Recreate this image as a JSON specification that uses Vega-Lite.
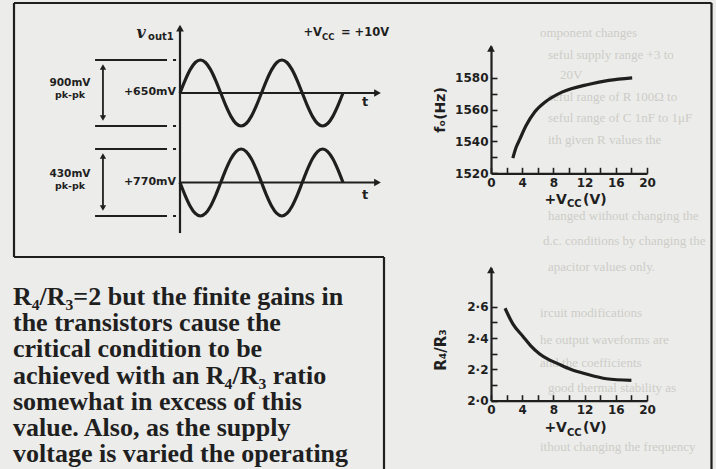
{
  "$schema": "https://vega.github.io/schema/vega-lite/v6.json",
  "width": 716,
  "height": 469,
  "autosize": "none",
  "padding": 0,
  "background": "#ececea",
  "config": {"view": {"stroke": null}, "axis": {"grid": false}},
  "datasets": {
    "waveA": [
      {"t": 0, "mv": 650}, {"t": 0.04, "mv": 822.2}, {"t": 0.08, "mv": 968.2}, {"t": 0.12, "mv": 1065.7},
      {"t": 0.16, "mv": 1100}, {"t": 0.2, "mv": 1065.7}, {"t": 0.24, "mv": 968.2}, {"t": 0.28, "mv": 822.2},
      {"t": 0.32, "mv": 650}, {"t": 0.36, "mv": 477.8}, {"t": 0.4, "mv": 331.8}, {"t": 0.44, "mv": 234.3},
      {"t": 0.48, "mv": 200}, {"t": 0.52, "mv": 234.3}, {"t": 0.56, "mv": 331.8}, {"t": 0.6, "mv": 477.8},
      {"t": 0.64, "mv": 650}, {"t": 0.68, "mv": 822.2}, {"t": 0.72, "mv": 968.2}, {"t": 0.76, "mv": 1065.7},
      {"t": 0.8, "mv": 1100}, {"t": 0.84, "mv": 1065.7}, {"t": 0.88, "mv": 968.2}, {"t": 0.92, "mv": 822.2},
      {"t": 0.96, "mv": 650}, {"t": 1.0, "mv": 477.8}, {"t": 1.04, "mv": 331.8}, {"t": 1.08, "mv": 234.3},
      {"t": 1.12, "mv": 200}, {"t": 1.16, "mv": 234.3}, {"t": 1.2, "mv": 331.8}, {"t": 1.24, "mv": 477.8},
      {"t": 1.28, "mv": 650}
    ],
    "waveB": [
      {"t": 0, "mv": 770}, {"t": 0.04, "mv": 687.7}, {"t": 0.08, "mv": 618}, {"t": 0.12, "mv": 571.4},
      {"t": 0.16, "mv": 555}, {"t": 0.2, "mv": 571.4}, {"t": 0.24, "mv": 618}, {"t": 0.28, "mv": 687.7},
      {"t": 0.32, "mv": 770}, {"t": 0.36, "mv": 852.3}, {"t": 0.4, "mv": 922}, {"t": 0.44, "mv": 968.6},
      {"t": 0.48, "mv": 985}, {"t": 0.52, "mv": 968.6}, {"t": 0.56, "mv": 922}, {"t": 0.6, "mv": 852.3},
      {"t": 0.64, "mv": 770}, {"t": 0.68, "mv": 687.7}, {"t": 0.72, "mv": 618}, {"t": 0.76, "mv": 571.4},
      {"t": 0.8, "mv": 555}, {"t": 0.84, "mv": 571.4}, {"t": 0.88, "mv": 618}, {"t": 0.92, "mv": 687.7},
      {"t": 0.96, "mv": 770}, {"t": 1.0, "mv": 852.3}, {"t": 1.04, "mv": 922}, {"t": 1.08, "mv": 968.6},
      {"t": 1.12, "mv": 985}, {"t": 1.16, "mv": 968.6}, {"t": 1.2, "mv": 922}, {"t": 1.24, "mv": 852.3},
      {"t": 1.28, "mv": 770}
    ],
    "freq": [
      {"vcc": 2.8, "f": 1529.5}, {"vcc": 3.2, "f": 1536}, {"vcc": 3.7, "f": 1541.5}, {"vcc": 4.5, "f": 1550},
      {"vcc": 5.6, "f": 1558.5}, {"vcc": 7, "f": 1565}, {"vcc": 9.1, "f": 1571}, {"vcc": 12.6, "f": 1576},
      {"vcc": 15.1, "f": 1578.4}, {"vcc": 18.1, "f": 1580}
    ],
    "ratio": [
      {"vcc": 1.8, "r": 2.59}, {"vcc": 2.8, "r": 2.49}, {"vcc": 4.1, "r": 2.41}, {"vcc": 5.1, "r": 2.35},
      {"vcc": 6.2, "r": 2.3}, {"vcc": 7.3, "r": 2.265}, {"vcc": 8.4, "r": 2.24}, {"vcc": 10.2, "r": 2.2},
      {"vcc": 12.2, "r": 2.17}, {"vcc": 14.8, "r": 2.14}, {"vcc": 18, "r": 2.13}
    ],
    "para": [
      {"line": 1, "text": "R₄/R₃=2 but the finite gains in"},
      {"line": 2, "text": "the transistors cause the"},
      {"line": 3, "text": "critical condition to be"},
      {"line": 4, "text": "achieved with an R₄/R₃ ratio"},
      {"line": 5, "text": "somewhat in excess of this"},
      {"line": 6, "text": "value. Also, as the supply"},
      {"line": 7, "text": "voltage is varied the operating"}
    ],
    "showThrough": [
      {"x": 540, "y": 33, "text": "omponent changes"},
      {"x": 548, "y": 55, "text": "seful supply range +3 to"},
      {"x": 560, "y": 75, "text": "20V"},
      {"x": 548, "y": 97, "text": "seful range of R 100Ω to"},
      {"x": 548, "y": 118, "text": "seful range of C 1nF to 1μF"},
      {"x": 548, "y": 140, "text": "ith given R values the"},
      {"x": 548, "y": 216, "text": "hanged without changing the"},
      {"x": 543, "y": 241, "text": "d.c. conditions by changing the"},
      {"x": 548, "y": 267, "text": "apacitor values only."},
      {"x": 540, "y": 313, "text": "ircuit modifications"},
      {"x": 540, "y": 340, "text": "he output waveforms are"},
      {"x": 540, "y": 363, "text": "and the coefficients"},
      {"x": 548, "y": 388, "text": "good thermal stability as"},
      {"x": 540, "y": 447, "text": "ithout changing the frequency"}
    ]
  },
  "resolve": {"scale": {"x": "independent", "y": "independent"}, "axis": {"x": "independent", "y": "independent"}},
  "layer": [
    {
      "data": {"name": "showThrough"},
      "mark": {"type": "text", "align": "left", "baseline": "middle", "font": "Liberation Serif", "fontSize": 13, "color": "#cdccc8"},
      "encoding": {
        "x": {"field": "x", "type": "quantitative", "scale": {"domain": [0, 716], "range": [0, 716], "nice": false, "zero": false}, "axis": null},
        "y": {"field": "y", "type": "quantitative", "scale": {"domain": [0, 469], "range": [0, 469], "nice": false, "zero": false}, "axis": null},
        "text": {"field": "text"}
      }
    },
    {
      "data": {"values": [{}]},
      "layer": [
        {"mark": {"type": "rule", "color": "#1f1f1f", "strokeWidth": 2.2},
         "encoding": {"x": {"datum": 14, "type": "quantitative", "scale": {"domain": [0, 716], "range": [0, 716], "nice": false, "zero": false}, "axis": null},
                      "x2": {"datum": 711.5},
                      "y": {"datum": 3, "type": "quantitative", "scale": {"domain": [0, 469], "range": [0, 469], "nice": false, "zero": false}, "axis": null}}},
        {"mark": {"type": "rule", "color": "#1f1f1f", "strokeWidth": 2.2},
         "encoding": {"x": {"datum": 711.5, "type": "quantitative"}, "y": {"datum": 3, "type": "quantitative"}, "y2": {"datum": 469}}},
        {"mark": {"type": "rule", "color": "#1f1f1f", "strokeWidth": 2.2},
         "encoding": {"x": {"datum": 14, "type": "quantitative"}, "y": {"datum": 3, "type": "quantitative"}, "y2": {"datum": 257}}},
        {"mark": {"type": "rule", "color": "#1f1f1f", "strokeWidth": 2.2},
         "encoding": {"x": {"datum": 14, "type": "quantitative"}, "x2": {"datum": 384}, "y": {"datum": 257, "type": "quantitative"}}},
        {"mark": {"type": "rule", "color": "#1f1f1f", "strokeWidth": 2.2},
         "encoding": {"x": {"datum": 384, "type": "quantitative"}, "y": {"datum": 257, "type": "quantitative"}, "y2": {"datum": 469}}}
      ]
    },
    {
      "data": {"name": "para"},
      "mark": {"type": "text", "align": "left", "baseline": "alphabetic", "font": "Liberation Serif", "fontWeight": "bold", "fontSize": 26, "color": "#1f1f1f"},
      "encoding": {
        "x": {"datum": 13, "type": "quantitative", "scale": {"domain": [0, 716], "range": [0, 716], "nice": false, "zero": false}, "axis": null},
        "y": {"field": "line", "type": "quantitative", "scale": {"domain": [1, 7], "range": [305, 462], "nice": false, "zero": false}, "axis": null},
        "text": {"field": "text"}
      }
    },
    {
      "data": {"values": [{}]},
      "layer": [
        {"data": {"name": "waveA"},
         "mark": {"type": "line", "color": "#1f1f1f", "strokeWidth": 3.2, "interpolate": "monotone"},
         "encoding": {"x": {"field": "t", "type": "quantitative", "scale": {"domain": [0, 1.28], "range": [180, 343], "nice": false, "zero": false}, "axis": null},
                      "y": {"field": "mv", "type": "quantitative", "scale": {"domain": [200, 1100], "range": [126, 60], "nice": false, "zero": false}, "axis": null}}},
        {"mark": {"type": "rule", "color": "#1f1f1f", "strokeWidth": 2.2},
         "encoding": {"x": {"datum": 0, "type": "quantitative"}, "y": {"datum": -1260, "type": "quantitative"}, "y2": {"datum": 1500}}},
        {"mark": {"type": "point", "shape": "triangle-up", "filled": true, "opacity": 1, "size": 60, "color": "#1f1f1f"},
         "encoding": {"x": {"datum": 0, "type": "quantitative"}, "y": {"datum": 1536, "type": "quantitative"}}},
        {"mark": {"type": "rule", "color": "#1f1f1f", "strokeWidth": 2.2},
         "encoding": {"x": {"datum": 0, "type": "quantitative"}, "x2": {"datum": 1.54}, "y": {"datum": 650, "type": "quantitative"}}},
        {"mark": {"type": "point", "shape": "triangle-right", "filled": true, "opacity": 1, "size": 60, "color": "#1f1f1f"},
         "encoding": {"x": {"datum": 1.551, "type": "quantitative"}, "y": {"datum": 650, "type": "quantitative"}}},
        {"mark": {"type": "rule", "color": "#1f1f1f", "strokeWidth": 2.2},
         "encoding": {"x": {"datum": -0.667, "type": "quantitative"}, "x2": {"datum": -0.102}, "y": {"datum": 1100, "type": "quantitative"}}},
        {"mark": {"type": "rule", "color": "#1f1f1f", "strokeWidth": 2.2},
         "encoding": {"x": {"datum": -0.667, "type": "quantitative"}, "x2": {"datum": -0.102}, "y": {"datum": 200, "type": "quantitative"}}},
        {"mark": {"type": "rule", "color": "#1f1f1f", "strokeWidth": 2},
         "encoding": {"x": {"datum": -0.055, "type": "quantitative"}, "x2": {"datum": -0.031}, "y": {"datum": 1100, "type": "quantitative"}}},
        {"mark": {"type": "rule", "color": "#1f1f1f", "strokeWidth": 2},
         "encoding": {"x": {"datum": -0.055, "type": "quantitative"}, "x2": {"datum": -0.031}, "y": {"datum": 200, "type": "quantitative"}}},
        {"mark": {"type": "rule", "color": "#1f1f1f", "strokeWidth": 1.8},
         "encoding": {"x": {"datum": -0.605, "type": "quantitative"}, "y": {"datum": 1004, "type": "quantitative"}, "y2": {"datum": 309}}},
        {"mark": {"type": "point", "shape": "triangle-up", "filled": true, "opacity": 1, "size": 40, "color": "#1f1f1f"},
         "encoding": {"x": {"datum": -0.605, "type": "quantitative"}, "y": {"datum": 1004, "type": "quantitative"}}},
        {"mark": {"type": "point", "shape": "triangle-down", "filled": true, "opacity": 1, "size": 40, "color": "#1f1f1f"},
         "encoding": {"x": {"datum": -0.605, "type": "quantitative"}, "y": {"datum": 309, "type": "quantitative"}}},
        {"mark": {"type": "text", "align": "center", "baseline": "middle", "font": "DejaVu Sans", "fontWeight": "bold", "fontSize": 10.5, "color": "#1f1f1f"},
         "encoding": {"x": {"datum": -0.864, "type": "quantitative"}, "y": {"datum": 786, "type": "quantitative"}, "text": {"value": "900mV"}}},
        {"mark": {"type": "text", "align": "center", "baseline": "middle", "font": "DejaVu Sans", "fontWeight": "bold", "fontSize": 9.5, "color": "#1f1f1f"},
         "encoding": {"x": {"datum": -0.864, "type": "quantitative"}, "y": {"datum": 623, "type": "quantitative"}, "text": {"value": "pk-pk"}}},
        {"mark": {"type": "text", "align": "right", "baseline": "middle", "font": "DejaVu Sans", "fontWeight": "bold", "fontSize": 11, "color": "#1f1f1f"},
         "encoding": {"x": {"datum": -0.031, "type": "quantitative"}, "y": {"datum": 664, "type": "quantitative"}, "text": {"value": "+650mV"}}},
        {"mark": {"type": "text", "align": "center", "baseline": "middle", "font": "DejaVu Sans", "fontWeight": "bold", "fontSize": 13, "color": "#1f1f1f"},
         "encoding": {"x": {"datum": 1.453, "type": "quantitative"}, "y": {"datum": 527, "type": "quantitative"}, "text": {"value": "t"}}},
        {"mark": {"type": "text", "align": "center", "baseline": "middle", "font": "DejaVu Serif", "fontStyle": "italic", "fontWeight": "bold", "fontSize": 16, "color": "#1f1f1f"},
         "encoding": {"x": {"datum": -0.306, "type": "quantitative"}, "y": {"datum": 1468, "type": "quantitative"}, "text": {"value": "v"}}},
        {"mark": {"type": "text", "align": "left", "baseline": "middle", "font": "DejaVu Sans", "fontWeight": "bold", "fontSize": 10, "color": "#1f1f1f"},
         "encoding": {"x": {"datum": -0.251, "type": "quantitative"}, "y": {"datum": 1414, "type": "quantitative"}, "text": {"value": "out1"}}},
        {"mark": {"type": "text", "align": "right", "baseline": "middle", "font": "DejaVu Sans", "fontWeight": "bold", "fontSize": 11.5, "color": "#1f1f1f"},
         "encoding": {"x": {"datum": 1.115, "type": "quantitative"}, "y": {"datum": 1468, "type": "quantitative"}, "text": {"value": "+V"}}},
        {"mark": {"type": "text", "align": "left", "baseline": "middle", "font": "DejaVu Sans", "fontWeight": "bold", "fontSize": 8.5, "color": "#1f1f1f"},
         "encoding": {"x": {"datum": 1.115, "type": "quantitative"}, "y": {"datum": 1414, "type": "quantitative"}, "text": {"value": "CC"}}},
        {"mark": {"type": "text", "align": "left", "baseline": "middle", "font": "DejaVu Sans", "fontWeight": "bold", "fontSize": 11.5, "color": "#1f1f1f"},
         "encoding": {"x": {"datum": 1.264, "type": "quantitative"}, "y": {"datum": 1468, "type": "quantitative"}, "text": {"value": "= +10V"}}}
      ]
    },
    {
      "data": {"values": [{}]},
      "layer": [
        {"data": {"name": "waveB"},
         "mark": {"type": "line", "color": "#1f1f1f", "strokeWidth": 3.2, "interpolate": "monotone"},
         "encoding": {"x": {"field": "t", "type": "quantitative", "scale": {"domain": [0, 1.28], "range": [180, 343], "nice": false, "zero": false}, "axis": null},
                      "y": {"field": "mv", "type": "quantitative", "scale": {"domain": [555, 985], "range": [216, 149], "nice": false, "zero": false}, "axis": null}}},
        {"mark": {"type": "rule", "color": "#1f1f1f", "strokeWidth": 2.2},
         "encoding": {"x": {"datum": 0, "type": "quantitative"}, "x2": {"datum": 1.54}, "y": {"datum": 770, "type": "quantitative"}}},
        {"mark": {"type": "point", "shape": "triangle-right", "filled": true, "opacity": 1, "size": 60, "color": "#1f1f1f"},
         "encoding": {"x": {"datum": 1.551, "type": "quantitative"}, "y": {"datum": 770, "type": "quantitative"}}},
        {"mark": {"type": "rule", "color": "#1f1f1f", "strokeWidth": 2.2},
         "encoding": {"x": {"datum": -0.667, "type": "quantitative"}, "x2": {"datum": -0.102}, "y": {"datum": 985, "type": "quantitative"}}},
        {"mark": {"type": "rule", "color": "#1f1f1f", "strokeWidth": 2.2},
         "encoding": {"x": {"datum": -0.667, "type": "quantitative"}, "x2": {"datum": -0.102}, "y": {"datum": 555, "type": "quantitative"}}},
        {"mark": {"type": "rule", "color": "#1f1f1f", "strokeWidth": 2},
         "encoding": {"x": {"datum": -0.055, "type": "quantitative"}, "x2": {"datum": -0.031}, "y": {"datum": 985, "type": "quantitative"}}},
        {"mark": {"type": "rule", "color": "#1f1f1f", "strokeWidth": 2},
         "encoding": {"x": {"datum": -0.055, "type": "quantitative"}, "x2": {"datum": -0.031}, "y": {"datum": 555, "type": "quantitative"}}},
        {"mark": {"type": "rule", "color": "#1f1f1f", "strokeWidth": 1.8},
         "encoding": {"x": {"datum": -0.605, "type": "quantitative"}, "y": {"datum": 940, "type": "quantitative"}, "y2": {"datum": 606}}},
        {"mark": {"type": "point", "shape": "triangle-up", "filled": true, "opacity": 1, "size": 40, "color": "#1f1f1f"},
         "encoding": {"x": {"datum": -0.605, "type": "quantitative"}, "y": {"datum": 940, "type": "quantitative"}}},
        {"mark": {"type": "point", "shape": "triangle-down", "filled": true, "opacity": 1, "size": 40, "color": "#1f1f1f"},
         "encoding": {"x": {"datum": -0.605, "type": "quantitative"}, "y": {"datum": 606, "type": "quantitative"}}},
        {"mark": {"type": "text", "align": "center", "baseline": "middle", "font": "DejaVu Sans", "fontWeight": "bold", "fontSize": 10.5, "color": "#1f1f1f"},
         "encoding": {"x": {"datum": -0.864, "type": "quantitative"}, "y": {"datum": 825, "type": "quantitative"}, "text": {"value": "430mV"}}},
        {"mark": {"type": "text", "align": "center", "baseline": "middle", "font": "DejaVu Sans", "fontWeight": "bold", "fontSize": 9.5, "color": "#1f1f1f"},
         "encoding": {"x": {"datum": -0.864, "type": "quantitative"}, "y": {"datum": 747, "type": "quantitative"}, "text": {"value": "pk-pk"}}},
        {"mark": {"type": "text", "align": "right", "baseline": "middle", "font": "DejaVu Sans", "fontWeight": "bold", "fontSize": 11, "color": "#1f1f1f"},
         "encoding": {"x": {"datum": -0.031, "type": "quantitative"}, "y": {"datum": 773, "type": "quantitative"}, "text": {"value": "+770mV"}}},
        {"mark": {"type": "text", "align": "center", "baseline": "middle", "font": "DejaVu Sans", "fontWeight": "bold", "fontSize": 13, "color": "#1f1f1f"},
         "encoding": {"x": {"datum": 1.453, "type": "quantitative"}, "y": {"datum": 690, "type": "quantitative"}, "text": {"value": "t"}}}
      ]
    },
    {
      "data": {"values": [{}]},
      "layer": [
        {"data": {"name": "freq"},
         "mark": {"type": "line", "color": "#1f1f1f", "strokeWidth": 3.2, "interpolate": "monotone"},
         "encoding": {
           "x": {"field": "vcc", "type": "quantitative", "scale": {"domain": [0, 20], "range": [491, 647], "nice": false, "zero": false},
                 "axis": {"orient": "bottom", "offset": -295.7, "values": [0, 2, 4, 6, 8, 10, 12, 14, 16, 18, 20], "tickSize": -6, "tickWidth": 1.6, "tickColor": "#1f1f1f", "domainColor": "#1f1f1f", "domainWidth": 2.2, "labelExpr": "datum.value % 4 === 0 ? datum.label : ''", "labelFont": "DejaVu Sans", "labelFontWeight": "bold", "labelFontSize": 12, "labelColor": "#1f1f1f", "labelPadding": 10, "labelFlush": false, "labelOverlap": false, "title": null, "grid": false}},
           "y": {"field": "f", "type": "quantitative", "scale": {"domain": [1520, 1600], "range": [173.3, 46], "nice": false, "zero": false},
                 "axis": {"orient": "left", "offset": -491, "values": [1520, 1530, 1540, 1550, 1560, 1570, 1580], "format": "d", "tickSize": -6, "tickWidth": 1.6, "tickColor": "#1f1f1f", "domainColor": "#1f1f1f", "domainWidth": 2.2, "labelExpr": "datum.value % 20 === 0 ? datum.label : ''", "labelFont": "DejaVu Sans", "labelFontWeight": "bold", "labelFontSize": 12, "labelColor": "#1f1f1f", "labelPadding": 9, "labelFlush": false, "labelOverlap": false, "title": null, "grid": false}}
         }},
        {"mark": {"type": "point", "shape": "triangle-up", "filled": true, "opacity": 1, "size": 60, "color": "#1f1f1f"},
         "encoding": {"x": {"datum": 0, "type": "quantitative"}, "y": {"datum": 1598.5, "type": "quantitative"}}},
        {"mark": {"type": "text", "align": "center", "baseline": "middle", "angle": 270, "font": "DejaVu Sans", "fontWeight": "bold", "fontSize": 14, "color": "#1f1f1f"},
         "encoding": {"x": {"datum": -6.4, "type": "quantitative"}, "y": {"datum": 1559.8, "type": "quantitative"}, "text": {"value": "fₒ(Hz)"}}},
        {"mark": {"type": "text", "align": "right", "baseline": "alphabetic", "font": "DejaVu Sans", "fontWeight": "bold", "fontSize": 14, "color": "#1f1f1f"},
         "encoding": {"x": {"datum": 9.74, "type": "quantitative"}, "y": {"datum": 1500.9, "type": "quantitative"}, "text": {"value": "+V"}}},
        {"mark": {"type": "text", "align": "left", "baseline": "alphabetic", "font": "DejaVu Sans", "fontWeight": "bold", "fontSize": 10, "color": "#1f1f1f"},
         "encoding": {"x": {"datum": 9.74, "type": "quantitative"}, "y": {"datum": 1498.6, "type": "quantitative"}, "text": {"value": "CC"}}},
        {"mark": {"type": "text", "align": "left", "baseline": "alphabetic", "font": "DejaVu Sans", "fontWeight": "bold", "fontSize": 14, "color": "#1f1f1f"},
         "encoding": {"x": {"datum": 11.8, "type": "quantitative"}, "y": {"datum": 1500.9, "type": "quantitative"}, "text": {"value": "(V)"}}}
      ]
    },
    {
      "data": {"values": [{}]},
      "layer": [
        {"data": {"name": "ratio"},
         "mark": {"type": "line", "color": "#1f1f1f", "strokeWidth": 3.2, "interpolate": "monotone"},
         "encoding": {
           "x": {"field": "vcc", "type": "quantitative", "scale": {"domain": [0, 20], "range": [491, 647], "nice": false, "zero": false},
                 "axis": {"orient": "bottom", "offset": -68.3, "values": [0, 2, 4, 6, 8, 10, 12, 14, 16, 18, 20], "tickSize": -6, "tickWidth": 1.6, "tickColor": "#1f1f1f", "domainColor": "#1f1f1f", "domainWidth": 2.2, "labelExpr": "datum.value % 4 === 0 ? datum.label : ''", "labelFont": "DejaVu Sans", "labelFontWeight": "bold", "labelFontSize": 12, "labelColor": "#1f1f1f", "labelPadding": 10, "labelFlush": false, "labelOverlap": false, "title": null, "grid": false}},
           "y": {"field": "r", "type": "quantitative", "scale": {"domain": [2, 2.85], "range": [400.7, 267.5], "nice": false, "zero": false},
                 "axis": {"orient": "left", "offset": -491, "values": [2, 2.1, 2.2, 2.3, 2.4, 2.5, 2.6], "tickSize": -6, "tickWidth": 1.6, "tickColor": "#1f1f1f", "domainColor": "#1f1f1f", "domainWidth": 2.2, "labelExpr": "round(datum.value * 10) % 2 === 0 ? replace(format(datum.value, '.1f'), '.', '·') : ''", "labelFont": "DejaVu Sans", "labelFontWeight": "bold", "labelFontSize": 12, "labelColor": "#1f1f1f", "labelPadding": 9, "labelFlush": false, "labelOverlap": false, "title": null, "grid": false}}
         }},
        {"mark": {"type": "point", "shape": "triangle-up", "filled": true, "opacity": 1, "size": 60, "color": "#1f1f1f"},
         "encoding": {"x": {"datum": 0, "type": "quantitative"}, "y": {"datum": 2.835, "type": "quantitative"}}},
        {"mark": {"type": "text", "align": "center", "baseline": "middle", "angle": 270, "font": "DejaVu Sans", "fontWeight": "bold", "fontSize": 15, "color": "#1f1f1f"},
         "encoding": {"x": {"datum": -6.4, "type": "quantitative"}, "y": {"datum": 2.3235, "type": "quantitative"}, "text": {"value": "R₄/R₃"}}},
        {"mark": {"type": "text", "align": "right", "baseline": "alphabetic", "font": "DejaVu Sans", "fontWeight": "bold", "fontSize": 14, "color": "#1f1f1f"},
         "encoding": {"x": {"datum": 9.74, "type": "quantitative"}, "y": {"datum": 1.8, "type": "quantitative"}, "text": {"value": "+V"}}},
        {"mark": {"type": "text", "align": "left", "baseline": "alphabetic", "font": "DejaVu Sans", "fontWeight": "bold", "fontSize": 10, "color": "#1f1f1f"},
         "encoding": {"x": {"datum": 9.74, "type": "quantitative"}, "y": {"datum": 1.775, "type": "quantitative"}, "text": {"value": "CC"}}},
        {"mark": {"type": "text", "align": "left", "baseline": "alphabetic", "font": "DejaVu Sans", "fontWeight": "bold", "fontSize": 14, "color": "#1f1f1f"},
         "encoding": {"x": {"datum": 11.8, "type": "quantitative"}, "y": {"datum": 1.8, "type": "quantitative"}, "text": {"value": "(V)"}}}
      ]
    }
  ]
}
